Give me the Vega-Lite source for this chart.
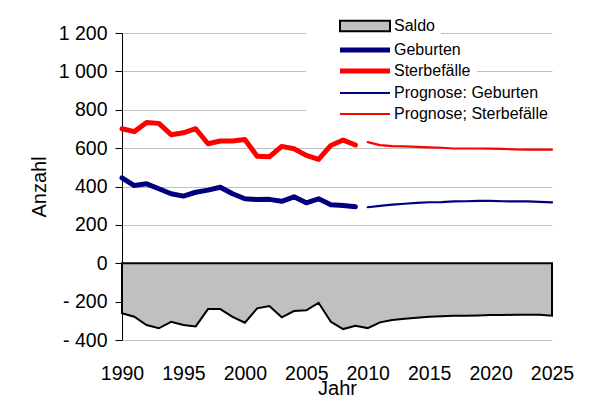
{
  "$schema": "https://vega.github.io/schema/vega-lite/v6.json",
  "width": 430,
  "height": 307,
  "autosize": {"type": "none"},
  "padding": {"left": 122, "top": 33, "right": 49, "bottom": 74},
  "background": "white",
  "config": {"font": "Liberation Sans", "view": {"stroke": null}},
  "datasets": {
    "d": [
      {"Jahr": 1990, "Reihe": "Geburten", "Anzahl": 445},
      {"Jahr": 1991, "Reihe": "Geburten", "Anzahl": 405},
      {"Jahr": 1992, "Reihe": "Geburten", "Anzahl": 414},
      {"Jahr": 1993, "Reihe": "Geburten", "Anzahl": 388},
      {"Jahr": 1994, "Reihe": "Geburten", "Anzahl": 362},
      {"Jahr": 1995, "Reihe": "Geburten", "Anzahl": 350},
      {"Jahr": 1996, "Reihe": "Geburten", "Anzahl": 370},
      {"Jahr": 1997, "Reihe": "Geburten", "Anzahl": 381},
      {"Jahr": 1998, "Reihe": "Geburten", "Anzahl": 396},
      {"Jahr": 1999, "Reihe": "Geburten", "Anzahl": 362},
      {"Jahr": 2000, "Reihe": "Geburten", "Anzahl": 336},
      {"Jahr": 2001, "Reihe": "Geburten", "Anzahl": 332},
      {"Jahr": 2002, "Reihe": "Geburten", "Anzahl": 333},
      {"Jahr": 2003, "Reihe": "Geburten", "Anzahl": 323},
      {"Jahr": 2004, "Reihe": "Geburten", "Anzahl": 346},
      {"Jahr": 2005, "Reihe": "Geburten", "Anzahl": 315},
      {"Jahr": 2006, "Reihe": "Geburten", "Anzahl": 336},
      {"Jahr": 2007, "Reihe": "Geburten", "Anzahl": 305},
      {"Jahr": 2008, "Reihe": "Geburten", "Anzahl": 301},
      {"Jahr": 2009, "Reihe": "Geburten", "Anzahl": 294},
      {"Jahr": 1990, "Reihe": "Sterbefälle", "Anzahl": 701},
      {"Jahr": 1991, "Reihe": "Sterbefälle", "Anzahl": 686},
      {"Jahr": 1992, "Reihe": "Sterbefälle", "Anzahl": 733},
      {"Jahr": 1993, "Reihe": "Sterbefälle", "Anzahl": 729},
      {"Jahr": 1994, "Reihe": "Sterbefälle", "Anzahl": 670},
      {"Jahr": 1995, "Reihe": "Sterbefälle", "Anzahl": 680},
      {"Jahr": 1996, "Reihe": "Sterbefälle", "Anzahl": 701},
      {"Jahr": 1997, "Reihe": "Sterbefälle", "Anzahl": 623},
      {"Jahr": 1998, "Reihe": "Sterbefälle", "Anzahl": 637},
      {"Jahr": 1999, "Reihe": "Sterbefälle", "Anzahl": 637},
      {"Jahr": 2000, "Reihe": "Sterbefälle", "Anzahl": 645},
      {"Jahr": 2001, "Reihe": "Sterbefälle", "Anzahl": 558},
      {"Jahr": 2002, "Reihe": "Sterbefälle", "Anzahl": 555},
      {"Jahr": 2003, "Reihe": "Sterbefälle", "Anzahl": 609},
      {"Jahr": 2004, "Reihe": "Sterbefälle", "Anzahl": 597},
      {"Jahr": 2005, "Reihe": "Sterbefälle", "Anzahl": 562},
      {"Jahr": 2006, "Reihe": "Sterbefälle", "Anzahl": 541},
      {"Jahr": 2007, "Reihe": "Sterbefälle", "Anzahl": 614},
      {"Jahr": 2008, "Reihe": "Sterbefälle", "Anzahl": 642},
      {"Jahr": 2009, "Reihe": "Sterbefälle", "Anzahl": 616},
      {"Jahr": 2010, "Reihe": "Prognose: Geburten", "Anzahl": 292},
      {"Jahr": 2011, "Reihe": "Prognose: Geburten", "Anzahl": 299},
      {"Jahr": 2012, "Reihe": "Prognose: Geburten", "Anzahl": 306},
      {"Jahr": 2013, "Reihe": "Prognose: Geburten", "Anzahl": 310},
      {"Jahr": 2014, "Reihe": "Prognose: Geburten", "Anzahl": 315},
      {"Jahr": 2015, "Reihe": "Prognose: Geburten", "Anzahl": 318},
      {"Jahr": 2016, "Reihe": "Prognose: Geburten", "Anzahl": 319},
      {"Jahr": 2017, "Reihe": "Prognose: Geburten", "Anzahl": 322},
      {"Jahr": 2018, "Reihe": "Prognose: Geburten", "Anzahl": 323},
      {"Jahr": 2019, "Reihe": "Prognose: Geburten", "Anzahl": 325},
      {"Jahr": 2020, "Reihe": "Prognose: Geburten", "Anzahl": 325},
      {"Jahr": 2021, "Reihe": "Prognose: Geburten", "Anzahl": 323},
      {"Jahr": 2022, "Reihe": "Prognose: Geburten", "Anzahl": 322},
      {"Jahr": 2023, "Reihe": "Prognose: Geburten", "Anzahl": 322},
      {"Jahr": 2024, "Reihe": "Prognose: Geburten", "Anzahl": 320},
      {"Jahr": 2025, "Reihe": "Prognose: Geburten", "Anzahl": 317},
      {"Jahr": 2010, "Reihe": "Prognose; Sterbefälle", "Anzahl": 631},
      {"Jahr": 2011, "Reihe": "Prognose; Sterbefälle", "Anzahl": 616},
      {"Jahr": 2012, "Reihe": "Prognose; Sterbefälle", "Anzahl": 610},
      {"Jahr": 2013, "Reihe": "Prognose; Sterbefälle", "Anzahl": 609},
      {"Jahr": 2014, "Reihe": "Prognose; Sterbefälle", "Anzahl": 607},
      {"Jahr": 2015, "Reihe": "Prognose; Sterbefälle", "Anzahl": 604},
      {"Jahr": 2016, "Reihe": "Prognose; Sterbefälle", "Anzahl": 602},
      {"Jahr": 2017, "Reihe": "Prognose; Sterbefälle", "Anzahl": 598},
      {"Jahr": 2018, "Reihe": "Prognose; Sterbefälle", "Anzahl": 598},
      {"Jahr": 2019, "Reihe": "Prognose; Sterbefälle", "Anzahl": 598},
      {"Jahr": 2020, "Reihe": "Prognose; Sterbefälle", "Anzahl": 597},
      {"Jahr": 2021, "Reihe": "Prognose; Sterbefälle", "Anzahl": 596},
      {"Jahr": 2022, "Reihe": "Prognose; Sterbefälle", "Anzahl": 593},
      {"Jahr": 2023, "Reihe": "Prognose; Sterbefälle", "Anzahl": 592},
      {"Jahr": 2024, "Reihe": "Prognose; Sterbefälle", "Anzahl": 592},
      {"Jahr": 2025, "Reihe": "Prognose; Sterbefälle", "Anzahl": 592},
      {"Jahr": 1990, "Reihe": "Saldo", "Anzahl": -261},
      {"Jahr": 1991, "Reihe": "Saldo", "Anzahl": -279},
      {"Jahr": 1992, "Reihe": "Saldo", "Anzahl": -322},
      {"Jahr": 1993, "Reihe": "Saldo", "Anzahl": -339},
      {"Jahr": 1994, "Reihe": "Saldo", "Anzahl": -305},
      {"Jahr": 1995, "Reihe": "Saldo", "Anzahl": -322},
      {"Jahr": 1996, "Reihe": "Saldo", "Anzahl": -329},
      {"Jahr": 1997, "Reihe": "Saldo", "Anzahl": -239},
      {"Jahr": 1998, "Reihe": "Saldo", "Anzahl": -239},
      {"Jahr": 1999, "Reihe": "Saldo", "Anzahl": -279},
      {"Jahr": 2000, "Reihe": "Saldo", "Anzahl": -310},
      {"Jahr": 2001, "Reihe": "Saldo", "Anzahl": -235},
      {"Jahr": 2002, "Reihe": "Saldo", "Anzahl": -223},
      {"Jahr": 2003, "Reihe": "Saldo", "Anzahl": -282},
      {"Jahr": 2004, "Reihe": "Saldo", "Anzahl": -249},
      {"Jahr": 2005, "Reihe": "Saldo", "Anzahl": -245},
      {"Jahr": 2006, "Reihe": "Saldo", "Anzahl": -206},
      {"Jahr": 2007, "Reihe": "Saldo", "Anzahl": -305},
      {"Jahr": 2008, "Reihe": "Saldo", "Anzahl": -343},
      {"Jahr": 2009, "Reihe": "Saldo", "Anzahl": -326},
      {"Jahr": 2010, "Reihe": "Saldo", "Anzahl": -338},
      {"Jahr": 2011, "Reihe": "Saldo", "Anzahl": -308},
      {"Jahr": 2012, "Reihe": "Saldo", "Anzahl": -296},
      {"Jahr": 2013, "Reihe": "Saldo", "Anzahl": -289},
      {"Jahr": 2014, "Reihe": "Saldo", "Anzahl": -284},
      {"Jahr": 2015, "Reihe": "Saldo", "Anzahl": -279},
      {"Jahr": 2016, "Reihe": "Saldo", "Anzahl": -276},
      {"Jahr": 2017, "Reihe": "Saldo", "Anzahl": -273},
      {"Jahr": 2018, "Reihe": "Saldo", "Anzahl": -273},
      {"Jahr": 2019, "Reihe": "Saldo", "Anzahl": -272},
      {"Jahr": 2020, "Reihe": "Saldo", "Anzahl": -270},
      {"Jahr": 2021, "Reihe": "Saldo", "Anzahl": -270},
      {"Jahr": 2022, "Reihe": "Saldo", "Anzahl": -268},
      {"Jahr": 2023, "Reihe": "Saldo", "Anzahl": -268},
      {"Jahr": 2024, "Reihe": "Saldo", "Anzahl": -269},
      {"Jahr": 2025, "Reihe": "Saldo", "Anzahl": -273}
    ]
  },
  "data": {"name": "d"},
  "encoding": {
    "x": {
      "field": "Jahr", "type": "quantitative",
      "scale": {"domain": [1990, 2025], "nice": false, "zero": false},
      "axis": {
        "title": "Jahr", "values": [1990, 1995, 2000, 2005, 2010, 2015, 2020, 2025],
        "format": "d", "grid": false, "domain": false, "ticks": true,
        "tickSize": 6, "tickColor": "black", "tickWidth": 1,
        "offset": -76.75, "labelPadding": 95, "labelFontSize": 19.5,
        "labelColor": "black", "labelFlush": false, "labelOverlap": false,
        "titleFontSize": 20, "titleFontWeight": "normal", "titleColor": "black", "titlePadding": -4
      }
    },
    "y": {
      "field": "Anzahl", "type": "quantitative",
      "scale": {"domain": [-400, 1200], "nice": false},
      "axis": {
        "title": "Anzahl", "values": [-400, -200, 0, 200, 400, 600, 800, 1000, 1200],
        "labelExpr": "(datum.value < 0 ? '- ' : '') + replace(format(abs(datum.value), ','), ',', ' ')",
        "grid": true, "gridColor": "#c0c0c0", "gridWidth": 1,
        "domainColor": "black", "tickColor": "black", "tickSize": 7,
        "labelPadding": 8, "labelFontSize": 19.5, "labelColor": "black",
        "titleFontSize": 20, "titleFontWeight": "normal", "titleColor": "black", "titlePadding": 9
      }
    }
  },
  "layer": [
    {
      "transform": [{"filter": "datum.Reihe === 'Saldo'"}],
      "mark": {"type": "area", "stroke": "black", "strokeWidth": 2},
      "encoding": {
        "fill": {
          "field": "Reihe", "type": "nominal",
          "scale": {"domain": ["Saldo"], "range": ["#c0c0c0"]},
          "legend": {
            "title": null, "orient": "none", "legendX": 184, "legendY": -21,
            "fillColor": "white", "padding": 6, "symbolOffset": 25, "labelOffset": 41,
            "labelFontSize": 16, "labelColor": "black", "symbolSize": 100, "labelLimit": 400,
            "symbolType": "M-1,-1.05H9V1.05H-1Z", "symbolStrokeColor": "black", "symbolStrokeWidth": 2,
            "labelExpr": "datum.label + '\u00a0\u00a0\u00a0\u00a0\u00a0\u00a0\u00a0\u00a0\u00a0\u00a0\u00a0\u00a0\u00a0\u00a0\u00a0\u00a0\u00a0\u00a0\u00a0\u00a0\u00a0\u00a0\u00a0\u00a0\u00a0\u00a0\u00a0\u00a0\u00a0\u00a0'"
          }
        }
      }
    },
    {
      "transform": [{"filter": "datum.Reihe === 'Geburten' || datum.Reihe === 'Sterbefälle'"}],
      "mark": {"type": "line", "strokeWidth": 5, "strokeJoin": "round", "strokeCap": "round"},
      "encoding": {
        "stroke": {
          "field": "Reihe", "type": "nominal",
          "scale": {"domain": ["Geburten", "Sterbefälle"], "range": ["#000080", "#ff0000"]},
          "legend": {
            "title": null, "orient": "none", "legendX": 184, "legendY": 3,
            "fillColor": "white", "padding": 6, "symbolOffset": 25, "labelOffset": 41,
            "labelFontSize": 16, "labelColor": "black", "symbolSize": 100, "rowPadding": 1, "labelLimit": 400,
            "symbolType": "M-1,0H9", "symbolStrokeWidth": 5,
            "labelExpr": "datum.label + '\u00a0\u00a0\u00a0\u00a0\u00a0\u00a0\u00a0\u00a0\u00a0\u00a0\u00a0\u00a0\u00a0\u00a0\u00a0\u00a0\u00a0\u00a0\u00a0\u00a0\u00a0\u00a0'"
          }
        }
      }
    },
    {
      "transform": [{"filter": "indexof(datum.Reihe, 'Prognose') === 0"}],
      "mark": {"type": "line", "strokeWidth": 2.2, "strokeJoin": "round", "strokeCap": "round"},
      "encoding": {
        "color": {
          "field": "Reihe", "type": "nominal",
          "scale": {"domain": ["Prognose: Geburten", "Prognose; Sterbefälle"], "range": ["#000080", "#ff0000"]},
          "legend": {
            "title": null, "orient": "none", "legendX": 184, "legendY": 46,
            "fillColor": "white", "padding": 6, "symbolOffset": 25, "labelOffset": 41,
            "labelFontSize": 16, "labelColor": "black", "symbolSize": 100, "rowPadding": 5, "labelLimit": 400,
            "symbolType": "M-1,0H9", "symbolStrokeWidth": 2.2,
            "labelExpr": "datum.label + '\u00a0\u00a0\u00a0\u00a0\u00a0'"
          }
        }
      }
    }
  ]
}
